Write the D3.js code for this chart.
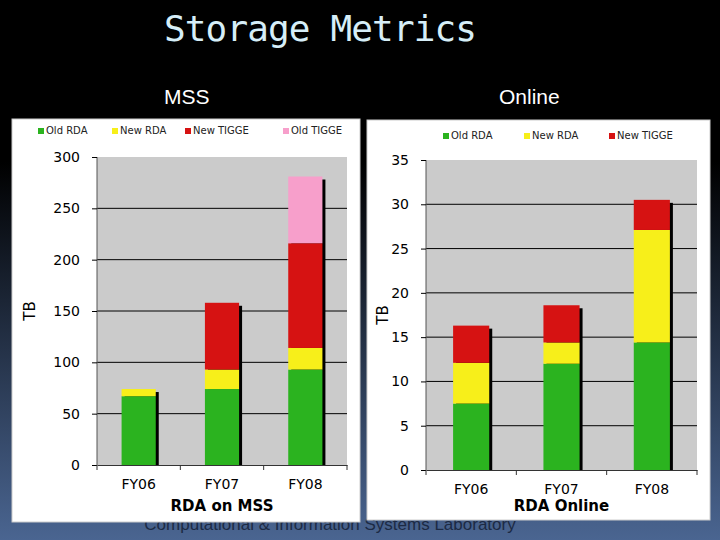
<!DOCTYPE html>
<html><head><meta charset="utf-8">
<script src="https://cdn.jsdelivr.net/npm/d3@7"></script>
<style>body{margin:0;background:#000}svg{display:block}</style>
</head><body>
<svg id="c" width="720" height="540"></svg>
<script>
const categories = ["FY06","FY07","FY08"];
const mssSeries = ["Old RDA","New RDA","New TIGGE","Old TIGGE"];
const mssOldRDA = [67,74,93];
const mssNewRDA = [7,19,21];
const mssNewTIGGE = [0,65,102];
const mssOldTIGGE = [0,0,65];
const mssTicks = [0,50,100,150,200,250,300];
const onSeries = ["Old RDA","New RDA","New TIGGE"];
const onlineOldRDA = [7.5,12,14.4];
const onlineNewRDA = [4.6,2.4,12.7];
const onlineNewTIGGE = [4.2,4.2,3.4];
const onTicks = [0,5,10,15,20,25,30,35];
const colors = {"Old RDA":"#2bb31f","New RDA":"#f7ef1a","New TIGGE":"#d61212","Old TIGGE":"#f79fcb"};

const svg = d3.select("#c");
const defs = svg.append("defs");
const g = defs.append("linearGradient").attr("id","bg").attr("x1",0).attr("y1",0).attr("x2",0).attr("y2",1);
g.append("stop").attr("offset","0.3").attr("stop-color","#000");
g.append("stop").attr("offset","1").attr("stop-color","#4a6591");
svg.append("rect").attr("width",720).attr("height",540).attr("fill","url(#bg)");

svg.append("text").attr("x",164).attr("y",41).attr("fill","#d6eef8").attr("font-family","DejaVu Sans Mono").attr("font-size",36).attr("textLength",313).text("Storage Metrics");
svg.append("text").attr("x",164).attr("y",104).attr("fill","#fff").attr("font-family","Liberation Sans Narrow, Liberation Sans").attr("font-size",21).text("MSS");
svg.append("text").attr("x",499).attr("y",104).attr("fill","#fff").attr("font-family","Liberation Sans").attr("font-size",21).text("Online");
svg.append("text").attr("x",330).attr("y",530).attr("text-anchor","middle").attr("fill","#1c2a44").attr("font-family","Liberation Sans Narrow, Liberation Sans").attr("font-size",17).text("Computational & Information Systems Laboratory");

function chart(cfg){
  const gg = svg.append("g");
  gg.append("rect").attr("x",cfg.px).attr("y",cfg.py).attr("width",cfg.pw).attr("height",cfg.ph).attr("fill","#fff").attr("stroke","#ccc");
  gg.append("rect").attr("x",cfg.x0).attr("y",cfg.y1).attr("width",cfg.x1-cfg.x0).attr("height",cfg.y0-cfg.y1).attr("fill","#cbcbcb");
  const x = d3.scaleBand().domain(categories).range([cfg.x0,cfg.x1]).paddingInner(cfg.pad).paddingOuter(cfg.pad/2);
  const y = d3.scaleLinear().domain([0,cfg.max]).range([cfg.y0,cfg.y1]);
  const rows = categories.map((c,i)=>{const r={cat:c};cfg.series.forEach((s,k)=>r[s]=cfg.values[k][i]);return r;});
  const stack = d3.stack().keys(cfg.series)(rows);
  gg.selectAll(".gl").data(cfg.ticks.slice(1,-1)).join("line").attr("x1",cfg.x0).attr("x2",cfg.x1).attr("y1",d=>y(d)).attr("y2",d=>y(d)).attr("stroke","#000").attr("stroke-width",1);
  const top = stack[stack.length-1];
  gg.selectAll(".sh").data(top).join("rect").attr("x",(d)=>x(d.data.cat)+3).attr("y",d=>y(d[1])+3).attr("width",x.bandwidth()).attr("height",d=>cfg.y0-y(d[1])-3).attr("fill","#000");
  stack.forEach(s=>{
    gg.selectAll(null).data(s).join("rect").attr("x",d=>x(d.data.cat)).attr("y",d=>y(d[1])).attr("width",x.bandwidth()).attr("height",d=>y(d[0])-y(d[1])).attr("fill",colors[s.key]);
  });
  const ya = gg.append("g").attr("transform",`translate(${cfg.x0},0)`).call(d3.axisLeft(y).tickValues(cfg.ticks).tickSize(5).tickPadding(cfg.tp));
  ya.select(".domain").attr("stroke","#555").attr("d",`M0,${cfg.y0}V${cfg.y1}`);
  ya.selectAll("text").attr("font-family","DejaVu Sans").attr("font-size",cfg.fs).attr("fill","#000");
  ya.selectAll(".tick line").attr("stroke","#000");
  const xa = gg.append("g").attr("transform",`translate(0,${cfg.y0})`).call(d3.axisBottom(x).tickSize(0).tickPadding(cfg.xtp));
  xa.select(".domain").attr("stroke","#333");
  xa.selectAll("text").attr("font-family","DejaVu Sans").attr("font-size",cfg.fs).attr("fill","#000");
  [cfg.x0, ...categories.map((c,i)=>x(c)+x.bandwidth()+x.step()*x.paddingInner()/2).slice(0,2), cfg.x1].forEach(v=>{
    gg.append("line").attr("x1",v).attr("x2",v).attr("y1",cfg.y0).attr("y2",cfg.y0+5).attr("stroke","#333");
  });
  gg.append("text").attr("x",(cfg.x0+cfg.x1)/2).attr("y",cfg.titleY).attr("text-anchor","middle").attr("font-family","DejaVu Sans").attr("font-weight","bold").attr("font-size",15).text(cfg.title);
  gg.append("text").attr("transform",`translate(${cfg.tbx},${(cfg.y0+cfg.y1)/2}) rotate(-90)`).attr("text-anchor","middle").attr("font-family","DejaVu Sans").attr("font-size",15).text("TB");
  cfg.series.forEach((s,k)=>{
    gg.append("rect").attr("x",cfg.lx[k]).attr("y",cfg.ly-5).attr("width",6).attr("height",6).attr("fill",colors[s]);
    gg.append("text").attr("x",cfg.lx[k]+8).attr("y",cfg.ly+1).attr("font-family","DejaVu Sans").attr("font-size",10).attr("fill","#222").text(s);
  });
}
chart({px:12,py:119,pw:348,ph:403,x0:97,x1:347,y0:465,y1:157,max:300,ticks:mssTicks,pad:0.59,
  series:mssSeries,values:[mssOldRDA,mssNewRDA,mssNewTIGGE,mssOldTIGGE],fs:14,tp:12,xtp:14,titleY:511,tbx:35,
  lx:[38,112,185,283],ly:133,title:"RDA on MSS"});
chart({px:367,py:120,pw:343,ph:400,x0:426,x1:697,y0:470,y1:160,max:35,ticks:onTicks,pad:0.6,
  series:onSeries,values:[onlineOldRDA,onlineNewRDA,onlineNewTIGGE],fs:14,tp:12,xtp:14,titleY:511,tbx:388,
  lx:[443,524,609],ly:138,title:"RDA Online"});
</script>
</body></html>
